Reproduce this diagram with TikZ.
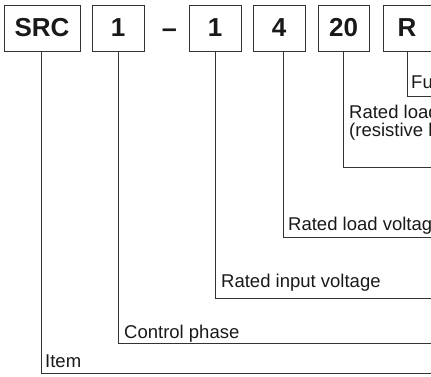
\documentclass[tikz,border=0pt]{standalone}
\usepackage{fontspec}
\setmainfont{Liberation Sans}
\usepackage{xcolor}
\usetikzlibrary{calc}
\definecolor{CodeLine}{RGB}{51, 51, 51}
\definecolor{CodeText}{RGB}{25, 25, 25}

\begin{document}
\begin{tikzpicture}[x=1pt, y=-1pt,
    codebox/.style={draw=CodeLine, line width=1pt, minimum height=46pt, inner sep=0pt,
        text=CodeText, font=\fontsize{26}{26}\selectfont\bfseries},
    codelabel/.style={anchor=base west, inner sep=0pt, text=CodeText, align=left,
        font=\fontsize{18.5}{18}\selectfont},
    leader/.style={draw=CodeLine, line width=0.9pt}]
    \useasboundingbox (0,0) rectangle (431,376);
    \clip (0,0) rectangle (431,376);

    % Code boxes
    \node[codebox, minimum width=76pt] (src) at (42,28) {SRC};
    \node[codebox, minimum width=52pt] (phase) at (118,28) {1};
    \node[text=CodeText, font=\fontsize{27}{27}\selectfont\bfseries] (dash) at (169.5,33) {--};
    \node[codebox, minimum width=52pt] (input) at (215,28) {1};
    \node[codebox, minimum width=52pt] (load) at (279,28) {4};
    \node[codebox, minimum width=51pt] (current) at (343.5,28) {20};
    \node[codebox, minimum width=48pt] (func) at (407,28) {R};

    % Ends of the leaders at the right edge
    \coordinate (func-end) at (431,96);
    \coordinate (current-end) at (431,167);
    \coordinate (load-end) at (431,237);
    \coordinate (input-end) at (431,298);
    \coordinate (phase-end) at (431,343);
    \coordinate (src-end) at (431,373.5);

    % Leaders
    \draw[leader] (func.south) |- (func-end);
    \draw[leader] (current.south) |- (current-end);
    \draw[leader] ($(load.south)+(4,0)$) |- (load-end);
    \draw[leader] (input.south) |- (input-end);
    \draw[leader] (phase.south) |- (phase-end);
    \draw[leader] ($(src.south)+(-1,0)$) |- (src-end);

    % Labels
    \node[codelabel] (func-label) at (411,88) {Function};
    \node[codelabel] (current-label) at (349,136) {Rated load current\\(resistive load)};
    \node[codelabel] (load-label) at (288,230) {Rated load voltage};
    \node[codelabel] (input-label) at (221,287) {Rated input voltage};
    \node[codelabel] (phase-label) at (124,338) {Control phase};
    \node[codelabel] (src-label) at (45,367) {Item};
\end{tikzpicture}
\end{document}
